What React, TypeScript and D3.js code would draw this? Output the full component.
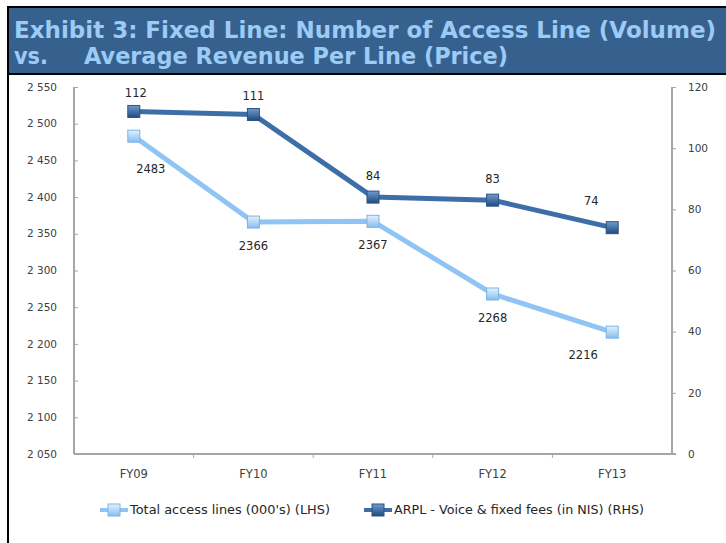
import { useEffect, useRef } from "react";
import * as d3 from "d3";

const years = ["FY09", "FY10", "FY11", "FY12", "FY13"];
const accessLines = [2483, 2366, 2367, 2268, 2216];
const arpl = [112, 111, 84, 83, 74];
const leftTicks = [2050, 2100, 2150, 2200, 2250, 2300, 2350, 2400, 2450, 2500, 2550];
const rightTicks = [0, 20, 40, 60, 80, 100, 120];
const seriesNames = ["Total access lines (000's) (LHS)", "ARPL - Voice & fixed fees (in NIS) (RHS)"];

const W = 726;
const H = 543;
const LIGHT = "#8FC4F4";
const DARK = "#3D6EA8";

function App() {
  const svgRef = useRef<SVGSVGElement | null>(null);

  useEffect(() => {
    const svg = d3.select(svgRef.current);
    svg.selectAll("*").remove();

    const margin = { top: 87, right: 54, bottom: 89, left: 74 };
    const innerWidth = W - margin.left - margin.right;
    const innerHeight = H - margin.top - margin.bottom;

    const defs = svg.append("defs");
    const gLight = defs.append("linearGradient").attr("id", "mkLight").attr("x1", 0).attr("y1", 0).attr("x2", 0).attr("y2", 1);
    gLight.append("stop").attr("offset", "0%").attr("stop-color", "#E4F2FE");
    gLight.append("stop").attr("offset", "100%").attr("stop-color", "#86BDF0");
    const gDark = defs.append("linearGradient").attr("id", "mkDark").attr("x1", 0).attr("y1", 0).attr("x2", 0).attr("y2", 1);
    gDark.append("stop").attr("offset", "0%").attr("stop-color", "#6F9BCF");
    gDark.append("stop").attr("offset", "100%").attr("stop-color", "#1F4A7C");

    // frame + title band
    svg.append("rect").attr("x", 0).attr("y", 0).attr("width", W).attr("height", H).attr("fill", "#fff");
    svg.append("rect").attr("x", 7).attr("y", 6).attr("width", W - 7).attr("height", 69).attr("fill", "#000");
    svg.append("rect").attr("x", 9).attr("y", 8).attr("width", W - 9).attr("height", 65).attr("fill", "#36618F");
    svg.append("rect").attr("x", 7).attr("y", 6).attr("width", 2).attr("height", H - 6).attr("fill", "#000");

    const titleFont = "'DejaVu Sans', Verdana, sans-serif";
    const title = (txt: string, x: number, y: number, len: number) =>
      svg.append("text")
        .attr("x", x).attr("y", y)
        .attr("textLength", len).attr("lengthAdjust", "spacingAndGlyphs")
        .attr("font-family", titleFont)
        .attr("font-weight", "bold").attr("font-size", 23)
        .attr("fill", "#9CCBF5")
        .text(txt);
    title("Exhibit 3: Fixed Line: Number of Access Line (Volume)", 14, 38, 702);
    title("vs.", 14, 64, 34);
    title("Average Revenue Per Line (Price)", 84, 64, 424);

    const xScale = d3.scaleBand().domain(years).range([0, innerWidth]);
    const yLeft = d3.scaleLinear().domain([2050, 2550]).range([innerHeight, 0]);
    const yRight = d3.scaleLinear().domain([0, 120]).range([innerHeight, 0]);
    const cx = (d: string) => (xScale(d) ?? 0) + xScale.bandwidth() / 2;

    const chart = svg.append("g").attr("transform", `translate(${margin.left},${margin.top})`);
    const font = "'DejaVu Sans', sans-serif";
    const axisColor = "#A6A6A6";

    // left axis
    const leftAxis = chart.append("g")
      .call(d3.axisRight(yLeft).tickValues(leftTicks).tickSize(4).tickFormat(() => ""));
    leftAxis.select(".domain").attr("stroke", axisColor).attr("stroke-width", 2).attr("d", `M0,0V${innerHeight}`);
    leftAxis.selectAll(".tick line").attr("stroke", axisColor);
    chart.append("g").selectAll("text").data(leftTicks).enter().append("text")
      .attr("x", -17).attr("y", d => yLeft(d)).attr("dy", "0.35em")
      .attr("text-anchor", "end").attr("font-family", font).attr("font-size", 10.5)
      .attr("fill", "#404040")
      .text(d => d3.format(",")(d).replace(",", " "));

    // right axis
    const rightAxis = chart.append("g").attr("transform", `translate(${innerWidth},0)`)
      .call(d3.axisRight(yRight).tickValues(rightTicks).tickSize(4).tickFormat(() => ""));
    rightAxis.select(".domain").attr("stroke", axisColor).attr("stroke-width", 2).attr("d", `M0,0V${innerHeight}`);
    rightAxis.selectAll(".tick line").attr("stroke", axisColor);
    chart.append("g").selectAll("text").data(rightTicks).enter().append("text")
      .attr("x", innerWidth + 16).attr("y", d => yRight(d)).attr("dy", "0.35em")
      .attr("font-family", font).attr("font-size", 10.5)
      .attr("fill", "#404040")
      .text(d => d);

    // x axis
    const xAxis = chart.append("g").attr("transform", `translate(0,${innerHeight})`);
    xAxis.append("line").attr("x1", 0).attr("x2", innerWidth + 4).attr("stroke", axisColor).attr("stroke-width", 2);
    xAxis.selectAll("line.tk").data(years.slice(1)).enter().append("line").attr("class", "tk")
      .attr("x1", d => xScale(d) ?? 0).attr("x2", d => xScale(d) ?? 0)
      .attr("y1", 0).attr("y2", 4).attr("stroke", axisColor);
    xAxis.selectAll("text").data(years).enter().append("text")
      .attr("x", cx).attr("y", 20).attr("dy", "0.35em")
      .attr("text-anchor", "middle").attr("font-family", font).attr("font-size", 11.5)
      .attr("fill", "#404040")
      .text(d => d);

    // lines
    const lightPts = years.map((y, i) => [cx(y), yLeft(accessLines[i])] as [number, number]);
    const darkPts = years.map((y, i) => [cx(y), yRight(arpl[i])] as [number, number]);
    const line = d3.line();
    chart.append("path").attr("d", line(lightPts)).attr("fill", "none")
      .attr("stroke", LIGHT).attr("stroke-width", 5).attr("stroke-linejoin", "round");
    chart.append("path").attr("d", line(darkPts)).attr("fill", "none")
      .attr("stroke", DARK).attr("stroke-width", 5).attr("stroke-linejoin", "round");

    const marker = (g: any, x: number, y: number, dark: boolean) => {
      g.append("rect").attr("x", x - 6).attr("y", y - 6).attr("width", 12).attr("height", 12)
        .attr("fill", dark ? "url(#mkDark)" : "url(#mkLight)")
        .attr("stroke", dark ? "#2B5380" : "#7DB3E4").attr("stroke-width", 1);
    };
    lightPts.forEach(p => marker(chart, p[0], p[1], false));
    darkPts.forEach(p => marker(chart, p[0], p[1], true));

    // data labels
    const lightNudge = [[17, 33], [0, 24], [0, 24], [0, 24], [-29, 23]];
    const darkNudge = [[2, -19], [0, -19], [0, -21], [0, -21], [-21, -27]];
    chart.append("g").selectAll("text").data(accessLines).enter().append("text")
      .attr("x", (d, i) => lightPts[i][0] + lightNudge[i][0])
      .attr("y", (d, i) => lightPts[i][1] + lightNudge[i][1]).attr("dy", "0.35em")
      .attr("text-anchor", "middle").attr("font-family", font).attr("font-size", 11.5)
      .attr("fill", "#262626")
      .text(d => d);
    chart.append("g").selectAll("text").data(arpl).enter().append("text")
      .attr("x", (d, i) => darkPts[i][0] + darkNudge[i][0])
      .attr("y", (d, i) => darkPts[i][1] + darkNudge[i][1]).attr("dy", "0.35em")
      .attr("text-anchor", "middle").attr("font-family", font).attr("font-size", 11.5)
      .attr("fill", "#262626")
      .text(d => d);

    // legend
    const legend = svg.append("g").attr("transform", "translate(0,510)");
    const items = [
      { x: 100, dark: false, len: 200 },
      { x: 364, dark: true, len: 250 },
    ];
    items.forEach((it, i) => {
      legend.append("line").attr("x1", it.x).attr("x2", it.x + 28).attr("y1", 0).attr("y2", 0)
        .attr("stroke", it.dark ? DARK : LIGHT).attr("stroke-width", 4);
      marker(legend, it.x + 14, 0, it.dark);
      legend.append("text").attr("x", it.x + 30).attr("y", 0).attr("dy", "0.35em")
        .attr("textLength", it.len).attr("lengthAdjust", "spacingAndGlyphs")
        .attr("font-family", font).attr("font-size", 12).attr("fill", "#262626")
        .text(seriesNames[i]);
    });
  }, []);

  return (
    <svg ref={svgRef} width={W} height={H}
      style={{ position: "absolute", left: 0, top: 0, display: "block" }} />
  );
}

export default App;
